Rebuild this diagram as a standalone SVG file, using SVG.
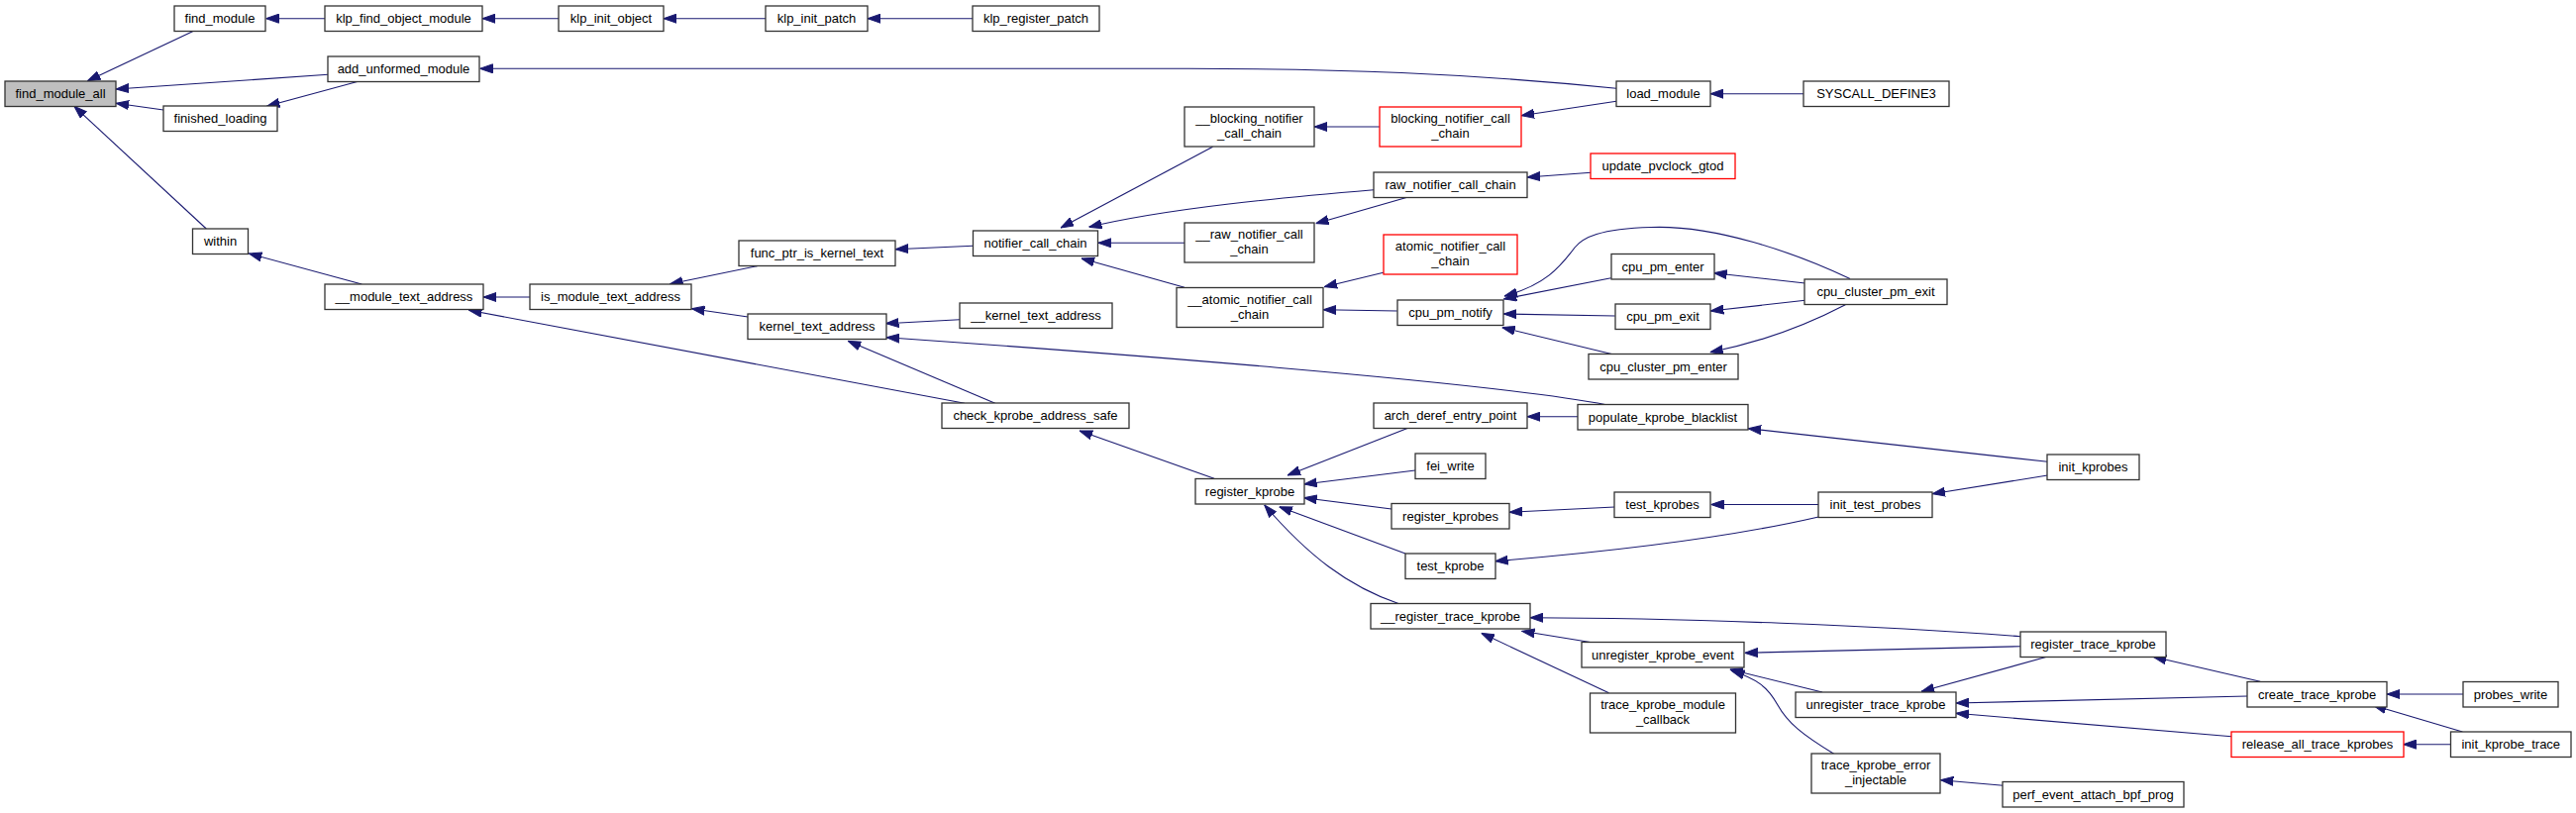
<svg xmlns="http://www.w3.org/2000/svg" width="2601" height="821" viewBox="0 0 2601 821">
<style>
.n rect{fill:#fff;stroke:#333;stroke-width:1.3}
.root rect{fill:#bfbfbf}
.red rect{stroke:#ff0000}
text{font-family:"Liberation Sans",Arial,Helvetica,sans-serif;font-size:13px;text-anchor:middle;fill:#000}
.e path{fill:none;stroke:#191970;stroke-width:1.1;marker-end:url(#a)}
</style>
<defs>
<marker id="a" markerUnits="userSpaceOnUse" markerWidth="13" markerHeight="10" refX="13" refY="5" orient="auto" viewBox="0 0 13 10">
<path d="M0,0.5L13,5L0,9.5z" fill="#191970" stroke="#191970" stroke-width="1"/>
</marker>
</defs>
<rect width="2601" height="821" fill="#fff"/>
<g id="edges" class="e">
<path d="M194.5,31.7L88.4,81.7"/>
<path d="M331.3,75.3L117,90"/>
<path d="M165,111L117,104.3"/>
<path d="M208.3,231L74.9,107.3"/>
<path d="M328,18.7L268.5,18.7"/>
<path d="M564,18.7L487,18.7"/>
<path d="M773,18.7L670,18.7"/>
<path d="M982,18.7L876,18.7"/>
<path d="M360.7,82.5L269.4,107.3"/>
<path d="M1632,89.3C1480,74 1350,69.3 1200,69.3L484.5,69.3"/>
<path d="M1821,94.7L1727,94.7"/>
<path d="M1632,102.3L1536,116.7"/>
<path d="M1393,128L1327,128"/>
<path d="M1224.5,148.3L1071,230"/>
<path d="M1387,191.7C1300,199 1180,210 1099.5,229.3"/>
<path d="M1606.4,174.3L1542,179"/>
<path d="M1420,199.5L1328.6,225.7"/>
<path d="M1196,245.3L1108.8,245.3"/>
<path d="M1196,290.3L1092,261"/>
<path d="M982.5,248.3L904.2,251.7"/>
<path d="M764.5,268.7L676.5,286.7"/>
<path d="M535,300L488,300"/>
<path d="M365.3,287L251.3,256"/>
<path d="M755.2,320L698.4,311.7"/>
<path d="M969,322.7L894.5,326.7"/>
<path d="M1622,408.7C1500,385 1100,355 895,340.7"/>
<path d="M1004.8,407.3L856.2,344.3"/>
<path d="M974,407.3L473.5,313.3"/>
<path d="M1226,483.3L1090,435"/>
<path d="M1396.8,275.3L1337,289.7"/>
<path d="M1410.7,314L1336.2,312.7"/>
<path d="M1626.7,280.7L1518.3,302"/>
<path d="M1630.7,319L1518.3,317"/>
<path d="M1628.3,357.7L1516.7,330.7"/>
<path d="M1868,281.5C1810,254 1730,227 1667,229.5C1615,231 1598,240 1590,250C1575,270 1560,288 1519,299"/>
<path d="M1822.7,286L1730.7,275.7"/>
<path d="M1822.7,303.3L1727.3,314"/>
<path d="M1863.3,307.7Q1798,341.7 1726.7,355.7"/>
<path d="M1421.7,432.3L1300,480"/>
<path d="M1593,420.7L1542,420.7"/>
<path d="M1429,475L1316.7,489"/>
<path d="M1405,514L1316.7,502.7"/>
<path d="M1419,559L1291.7,511.7"/>
<path d="M1413.3,610C1360,592 1320,560 1276.7,510"/>
<path d="M1630.4,512L1524,517.3"/>
<path d="M1836,509.5L1727.6,509.5"/>
<path d="M1836.2,522C1750,542 1640,556 1509.6,566.7"/>
<path d="M2067.5,466.3L1765.1,432.7"/>
<path d="M2067.5,480L1951,498.7"/>
<path d="M2040,642.7C1900,632 1700,624 1545,623.7"/>
<path d="M1607.2,648.7L1536.5,637.3"/>
<path d="M1624.5,699.7L1495.7,639.3"/>
<path d="M2040,652.7L1761.7,659.3"/>
<path d="M1840,699L1746.7,676"/>
<path d="M1851.7,761.3C1820,742 1805,730 1795,712C1785,694 1775,686 1748.3,677.3"/>
<path d="M2022.7,793.3L1959.3,787.7"/>
<path d="M2066.7,663.3L1940,698.3"/>
<path d="M2282.2,688.3L2174.2,663.3"/>
<path d="M2269.3,703L1974.9,710"/>
<path d="M2253.1,743.7L1974.9,720.3"/>
<path d="M2487,701L2410,701"/>
<path d="M2486.4,739L2396.3,712.3"/>
<path d="M2474.5,751.7L2426.6,751.7"/>
</g>
<g id="find_module_all" class="n root"><rect x="5" y="82" width="112" height="25.5"/><text x="61" y="99.25">find_module_all</text></g>
<g id="find_module" class="n"><rect x="176" y="6" width="92" height="25.5"/><text x="222" y="23.25">find_module</text></g>
<g id="klp_find_object_module" class="n"><rect x="328" y="6" width="159" height="25.5"/><text x="407.5" y="23.25">klp_find_object_module</text></g>
<g id="klp_init_object" class="n"><rect x="564" y="6" width="106" height="25.5"/><text x="617" y="23.25">klp_init_object</text></g>
<g id="klp_init_patch" class="n"><rect x="773" y="6" width="103" height="25.5"/><text x="824.5" y="23.25">klp_init_patch</text></g>
<g id="klp_register_patch" class="n"><rect x="982" y="6" width="128" height="25.5"/><text x="1046" y="23.25">klp_register_patch</text></g>
<g id="add_unformed_module" class="n"><rect x="331" y="57" width="153" height="25.5"/><text x="407.5" y="74.25">add_unformed_module</text></g>
<g id="finished_loading" class="n"><rect x="165" y="107" width="115" height="25.5"/><text x="222.5" y="124.25">finished_loading</text></g>
<g id="load_module" class="n"><rect x="1632" y="82" width="95" height="25.5"/><text x="1679.5" y="99.25">load_module</text></g>
<g id="SYSCALL_DEFINE3" class="n"><rect x="1821" y="82" width="147" height="25.5"/><text x="1894.5" y="99.25">SYSCALL_DEFINE3</text></g>
<g id="within" class="n"><rect x="194.5" y="231" width="56" height="25.5"/><text x="222.5" y="248.25">within</text></g>
<g id="__module_text_address" class="n"><rect x="328" y="287" width="160" height="25.5"/><text x="408" y="304.25">__module_text_address</text></g>
<g id="is_module_text_address" class="n"><rect x="535" y="287" width="163" height="25.5"/><text x="616.5" y="304.25">is_module_text_address</text></g>
<g id="func_ptr_is_kernel_text" class="n"><rect x="746" y="243" width="158" height="25.5"/><text x="825" y="260.25">func_ptr_is_kernel_text</text></g>
<g id="kernel_text_address" class="n"><rect x="755" y="317" width="140" height="25.5"/><text x="825" y="334.25">kernel_text_address</text></g>
<g id="__kernel_text_address" class="n"><rect x="969" y="306" width="154" height="25.5"/><text x="1046" y="323.25">__kernel_text_address</text></g>
<g id="notifier_call_chain" class="n"><rect x="982.5" y="233" width="126" height="25.5"/><text x="1045.5" y="250.25">notifier_call_chain</text></g>
<g id="__blocking_notifier_call_chain" class="n"><rect x="1196" y="108" width="131" height="40"/><text x="1261.5" y="124">__blocking_notifier</text><text x="1261.5" y="139">_call_chain</text></g>
<g id="blocking_notifier_call_chain" class="n red"><rect x="1393" y="108" width="143" height="40"/><text x="1464.5" y="124">blocking_notifier_call</text><text x="1464.5" y="139">_chain</text></g>
<g id="raw_notifier_call_chain" class="n"><rect x="1387" y="174" width="155" height="25.5"/><text x="1464.5" y="191.25">raw_notifier_call_chain</text></g>
<g id="update_pvclock_gtod" class="n red"><rect x="1606" y="155" width="146" height="25.5"/><text x="1679" y="172.25">update_pvclock_gtod</text></g>
<g id="__raw_notifier_call_chain" class="n"><rect x="1196" y="225" width="131" height="40"/><text x="1261.5" y="241">__raw_notifier_call</text><text x="1261.5" y="256">_chain</text></g>
<g id="__atomic_notifier_call_chain" class="n"><rect x="1188" y="290.5" width="148" height="40"/><text x="1262" y="306.5">__atomic_notifier_call</text><text x="1262" y="321.5">_chain</text></g>
<g id="atomic_notifier_call_chain" class="n red"><rect x="1397" y="237" width="135" height="40"/><text x="1464.5" y="253">atomic_notifier_call</text><text x="1464.5" y="268">_chain</text></g>
<g id="cpu_pm_notify" class="n"><rect x="1411" y="303" width="107" height="25.5"/><text x="1464.5" y="320.25">cpu_pm_notify</text></g>
<g id="cpu_pm_enter" class="n"><rect x="1627" y="256.5" width="104" height="25.5"/><text x="1679" y="273.75">cpu_pm_enter</text></g>
<g id="cpu_pm_exit" class="n"><rect x="1631" y="307" width="96" height="25.5"/><text x="1679" y="324.25">cpu_pm_exit</text></g>
<g id="cpu_cluster_pm_enter" class="n"><rect x="1604" y="357.5" width="151" height="25.5"/><text x="1679.5" y="374.75">cpu_cluster_pm_enter</text></g>
<g id="cpu_cluster_pm_exit" class="n"><rect x="1822" y="282" width="144" height="25.5"/><text x="1894" y="299.25">cpu_cluster_pm_exit</text></g>
<g id="check_kprobe_address_safe" class="n"><rect x="951" y="407" width="189" height="25.5"/><text x="1045.5" y="424.25">check_kprobe_address_safe</text></g>
<g id="register_kprobe" class="n"><rect x="1207" y="483.5" width="110" height="25.5"/><text x="1262" y="500.75">register_kprobe</text></g>
<g id="arch_deref_entry_point" class="n"><rect x="1387" y="407" width="155" height="25.5"/><text x="1464.5" y="424.25">arch_deref_entry_point</text></g>
<g id="populate_kprobe_blacklist" class="n"><rect x="1593" y="408.5" width="172" height="25.5"/><text x="1679" y="425.75">populate_kprobe_blacklist</text></g>
<g id="fei_write" class="n"><rect x="1429" y="458" width="71" height="25.5"/><text x="1464.5" y="475.25">fei_write</text></g>
<g id="register_kprobes" class="n"><rect x="1405" y="508.5" width="119" height="25.5"/><text x="1464.5" y="525.75">register_kprobes</text></g>
<g id="test_kprobes" class="n"><rect x="1630" y="497" width="97" height="25.5"/><text x="1678.5" y="514.25">test_kprobes</text></g>
<g id="init_test_probes" class="n"><rect x="1836" y="497" width="115" height="25.5"/><text x="1893.5" y="514.25">init_test_probes</text></g>
<g id="init_kprobes" class="n"><rect x="2067" y="459" width="93" height="25.5"/><text x="2113.5" y="476.25">init_kprobes</text></g>
<g id="test_kprobe" class="n"><rect x="1419" y="559" width="91" height="25.5"/><text x="1464.5" y="576.25">test_kprobe</text></g>
<g id="__register_trace_kprobe" class="n"><rect x="1384" y="609.5" width="161" height="25.5"/><text x="1464.5" y="626.75">__register_trace_kprobe</text></g>
<g id="unregister_kprobe_event" class="n"><rect x="1597" y="648.5" width="164" height="25.5"/><text x="1679" y="665.75">unregister_kprobe_event</text></g>
<g id="trace_kprobe_module_callback" class="n"><rect x="1605.5" y="700" width="147" height="40"/><text x="1679" y="716">trace_kprobe_module</text><text x="1679" y="731">_callback</text></g>
<g id="register_trace_kprobe" class="n"><rect x="2040" y="638" width="147" height="25.5"/><text x="2113.5" y="655.25">register_trace_kprobe</text></g>
<g id="unregister_trace_kprobe" class="n"><rect x="1813" y="699" width="162" height="25.5"/><text x="1894" y="716.25">unregister_trace_kprobe</text></g>
<g id="trace_kprobe_error_injectable" class="n"><rect x="1829" y="761" width="130" height="40"/><text x="1894" y="777">trace_kprobe_error</text><text x="1894" y="792">_injectable</text></g>
<g id="perf_event_attach_bpf_prog" class="n"><rect x="2022" y="789.5" width="183" height="25.5"/><text x="2113.5" y="806.75">perf_event_attach_bpf_prog</text></g>
<g id="create_trace_kprobe" class="n"><rect x="2269" y="688.5" width="141" height="25.5"/><text x="2339.5" y="705.75">create_trace_kprobe</text></g>
<g id="probes_write" class="n"><rect x="2487" y="688.5" width="96" height="25.5"/><text x="2535" y="705.75">probes_write</text></g>
<g id="release_all_trace_kprobes" class="n red"><rect x="2253" y="739" width="174" height="25.5"/><text x="2340" y="756.25">release_all_trace_kprobes</text></g>
<g id="init_kprobe_trace" class="n"><rect x="2474.5" y="739" width="121.5" height="25.5"/><text x="2535.25" y="756.25">init_kprobe_trace</text></g>
</svg>
